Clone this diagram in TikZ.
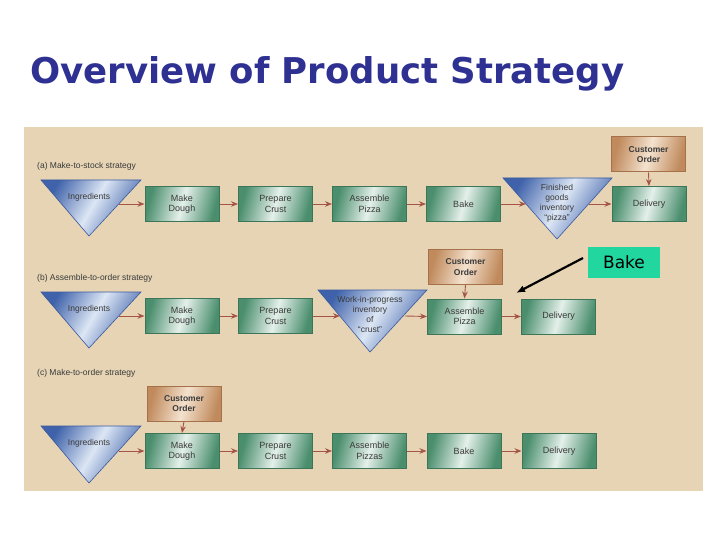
\documentclass[tikz,border=0pt]{standalone}
\usepackage{fontspec}
\setmainfont{Liberation Sans}
\newfontfamily\titlefont{DejaVu Sans}
\usetikzlibrary{arrows.meta,calc}
\definecolor{paneltan}{HTML}{E6D4B4}
\definecolor{titleblue}{HTML}{2E3192}
\definecolor{gdark}{HTML}{4A8E6D}
\definecolor{glight}{HTML}{E4F0EA}
\definecolor{gedge}{HTML}{3C7558}
\definecolor{odark}{HTML}{C08A5C}
\definecolor{olight}{HTML}{F4E2CE}
\definecolor{oedge}{HTML}{A5714A}
\definecolor{tdark}{HTML}{3F62AA}
\definecolor{tlight}{HTML}{DCE6F4}
\definecolor{tedge}{HTML}{3A5A9E}
\definecolor{arrowc}{HTML}{A55548}
\definecolor{txtc}{HTML}{3A3A3A}
\definecolor{callout}{HTML}{22D6A0}
\begin{document}
\begin{tikzpicture}[x=1pt,y=-1pt,
  proc/.style={rectangle, minimum width=74, minimum height=35, inner sep=1,
    align=center, font=\fontsize{9}{10.5}\selectfont, text=txtc,
    left color=gdark, right color=gdark, middle color=glight, shading angle=75,
    draw=gedge, line width=1},
  order/.style={rectangle, minimum width=74, minimum height=35, inner sep=1,
    align=center, font=\bfseries\fontsize{8.5}{10.5}\selectfont, text=txtc,
    left color=odark, right color=odark, middle color=olight, shading angle=75,
    draw=oedge, line width=1},
  tri/.style={left color=tdark, right color=tdark, middle color=tlight,
    shading angle=60, draw=tedge, line width=0.6},
  trilabel/.style={align=center, font=\fontsize{8.5}{10}\selectfont, text=txtc, inner sep=0},
  seclabel/.style={anchor=west, font=\fontsize{8.5}{10}\selectfont, text=txtc, inner sep=0},
  flow/.style={-{Stealth[length=7pt,width=5.5pt]}, draw=arrowc, line width=0.9},
]
\useasboundingbox (0,0) rectangle (720,540);
\fill[white] (0,0) rectangle (720,540);
% title
\node[anchor=base west, inner sep=0, text=titleblue,
  font=\titlefont\bfseries\fontsize{35.5}{40}\selectfont] (title) at (30,84) {Overview of Product Strategy};
% panel
\fill[paneltan] (24,127) rectangle (703,491);

% ---------------- (a) ----------------
\node[seclabel] (laba) at (37,166) {(a) Make-to-stock strategy};
\shade[tri] (41,180) -- (141,180) -- (89,236) -- cycle;
\node[trilabel] (ingA) at (89,197) {Ingredients};
\coordinate (ingAout) at (119,204);
\node[proc] (mdA) at (182,204) {Make\\Dough};
\node[proc] (pcA) at (275.5,204) {Prepare\\Crust};
\node[proc] (apA) at (369.5,204) {Assemble\\Pizza};
\node[proc] (bkA) at (463.5,204) {Bake};
\shade[tri] (503,178) -- (612,178) -- (557,239) -- cycle;
\node[trilabel] (fgA) at (557,203) {Finished\\goods\\inventory\\``pizza''};
\coordinate (fgAin) at (526,204);
\coordinate (fgAout) at (589,204);
\node[proc] (dlA) at (649,204) {Delivery};
\node[order] (coA) at (648.5,154.5) {Customer\\Order};
\draw[flow] (ingAout) -- (mdA.west);
\draw[flow] (mdA.east) -- (pcA.west);
\draw[flow] (pcA.east) -- (apA.west);
\draw[flow] (apA.east) -- (bkA.west);
\draw[flow] (bkA.east) -- (fgAin);
\draw[flow] (fgAout) -- (dlA.west);
\draw[flow] (coA.south) -- (dlA.north);

% ---------------- (b) ----------------
\node[seclabel] (labb) at (37,278) {(b) Assemble-to-order strategy};
\shade[tri] (41,292) -- (141,292) -- (89,348) -- cycle;
\node[trilabel] (ingB) at (89,309) {Ingredients};
\coordinate (ingBout) at (119,316);
\node[proc] (mdB) at (182,316) {Make\\Dough};
\node[proc] (pcB) at (275.5,316) {Prepare\\Crust};
\shade[tri] (318,290) -- (427,290) -- (370,352) -- cycle;
\node[trilabel] (wipB) at (370,314.5) {Work-in-progress\\inventory\\of\\``crust''};
\coordinate (wipBin) at (340,316);
\coordinate (wipBout) at (405,316);
\node[proc] (apB) at (464.5,316.5) {Assemble\\Pizza};
\node[proc] (dlB) at (558.5,316.5) {Delivery};
\node[order] (coB) at (465.5,267) {Customer\\Order};
\draw[flow] (ingBout) -- (mdB.west);
\draw[flow] (mdB.east) -- (pcB.west);
\draw[flow] (pcB.east) -- (wipBin);
\draw[flow] (wipBout) -- (apB.west);
\draw[flow] (apB.east) -- (dlB.west);
\draw[flow] (coB.south) -- (apB.north);

% callout
\node[rectangle, fill=callout, minimum width=72, minimum height=31, inner sep=0,
  font=\titlefont\fontsize{17}{19}\selectfont, text=black] (call) at (624,262) {Bake};
\coordinate (callfrom) at (583,258);
\coordinate (callto) at (516,293);
\draw[-{Latex[length=9pt,width=7pt]}, line width=2.2, black] (callfrom) -- (callto);

% ---------------- (c) ----------------
\node[seclabel] (labc) at (37,373) {(c) Make-to-order strategy};
\node[order] (coC) at (184,403.5) {Customer\\Order};
\shade[tri] (41,426) -- (141,426) -- (89,483) -- cycle;
\node[trilabel] (ingC) at (89,443) {Ingredients};
\coordinate (ingCout) at (119,451);
\node[proc] (mdC) at (182,451) {Make\\Dough};
\node[proc] (pcC) at (275.5,451) {Prepare\\Crust};
\node[proc] (apC) at (369.5,451) {Assemble\\Pizzas};
\node[proc] (bkC) at (464,451) {Bake};
\node[proc] (dlC) at (559,451) {Delivery};
\draw[flow] (ingCout) -- (mdC.west);
\draw[flow] (mdC.east) -- (pcC.west);
\draw[flow] (pcC.east) -- (apC.west);
\draw[flow] (apC.east) -- (bkC.west);
\draw[flow] (bkC.east) -- (dlC.west);
\draw[flow] (coC.south) -- (mdC.north);
\end{tikzpicture}
\end{document}
